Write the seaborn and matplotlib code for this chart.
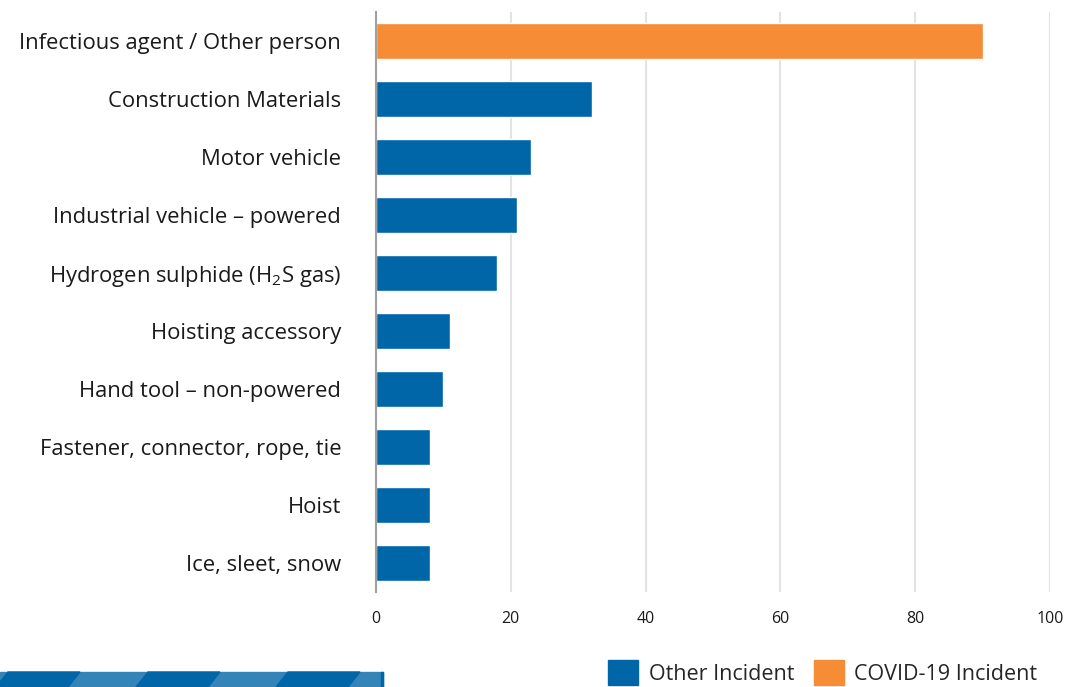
import matplotlib
matplotlib.use("Agg")
import matplotlib.pyplot as plt
import matplotlib.patches as mpatches
import pandas as pd
import seaborn as sns

categorias = [
    "Infectious agent / Other person",
    "Construction Materials",
    "Motor vehicle",
    "Industrial vehicle \u2013 powered",
    "Hydrogen sulphide (H$_{\\mathregular{2}}$S gas)",
    "Hoisting accessory",
    "Hand tool \u2013 non-powered",
    "Fastener, connector, rope, tie",
    "Hoist",
    "Ice, sleet, snow",
]
valores = [90, 32, 23, 21, 18, 11, 10, 8, 8, 8]
tipos = ["COVID-19 Incident"] + ["Other Incident"] * 9
cores = {"Other Incident": "#0066a8", "COVID-19 Incident": "#f68c35"}
ticks_x = [0, 20, 40, 60, 80, 100]

df = pd.DataFrame({"categoria": categorias, "valor": valores, "tipo": tipos})

sns.set_style("white")
plt.rcParams["font.family"] = ["Open Sans", "DejaVu Sans"]
plt.rcParams["mathtext.fontset"] = "custom"
plt.rcParams["mathtext.rm"] = "Open Sans"

fig = plt.figure(figsize=(10.76, 6.87), dpi=100)
ax = fig.add_axes([0.3494, 0.1383, 0.6264, 0.8442])

sns.barplot(data=df, x="valor", y="categoria", hue="tipo", palette=cores,
            dodge=False, width=0.62, saturation=1, order=categorias, ax=ax, legend=False)

ax.set_xlim(0, 100)
ax.set_xticks(ticks_x)
ax.set_xlabel("")
ax.set_ylabel("")
ax.grid(axis="x", color="#e3e3e3", linewidth=1.5)
ax.set_axisbelow(True)
for s in ["top", "right", "bottom"]:
    ax.spines[s].set_visible(False)
ax.spines["left"].set_color("#a0a0a0")
ax.spines["left"].set_linewidth(1.5)
ax.tick_params(axis="y", length=0, pad=25, labelsize=15.8, labelcolor="#1a1a1a")
ax.tick_params(axis="x", length=0, pad=14, labelsize=11.5, labelcolor="#1a1a1a")

# legenda
handles = [mpatches.Patch(color=cores["Other Incident"], label="Other Incident"),
           mpatches.Patch(color=cores["COVID-19 Incident"], label="COVID-19 Incident")]
fig.legend(handles=handles, loc="lower left", bbox_to_anchor=(0.563, 0.0),
           ncol=2, frameon=False, fontsize=15.5, handlelength=1.4, handleheight=1.4,
           handletextpad=0.5, columnspacing=0.9, borderaxespad=0, borderpad=0.1)

# faixa decorativa listrada no canto inferior esquerdo
y0, h = 0, 15 / 687
fig.patches.append(mpatches.Rectangle((0, y0), 383 / 1076, h, transform=fig.transFigure,
                                      color="#3584b8", zorder=0))
for x in [8, 148, 288]:
    pts = [((x - 12) / 1076, y0), ((x + 60) / 1076, y0),
           ((x + 72) / 1076, y0 + h), (x / 1076, y0 + h)]
    fig.patches.append(mpatches.Polygon(pts, closed=True, transform=fig.transFigure,
                                        color="#0066a8", zorder=1))
fig.patches.append(mpatches.Rectangle((381 / 1076, y0), 2 / 1076, h, transform=fig.transFigure,
                                      color="#0066a8", zorder=2))

fig.savefig("out.png", dpi=100)
